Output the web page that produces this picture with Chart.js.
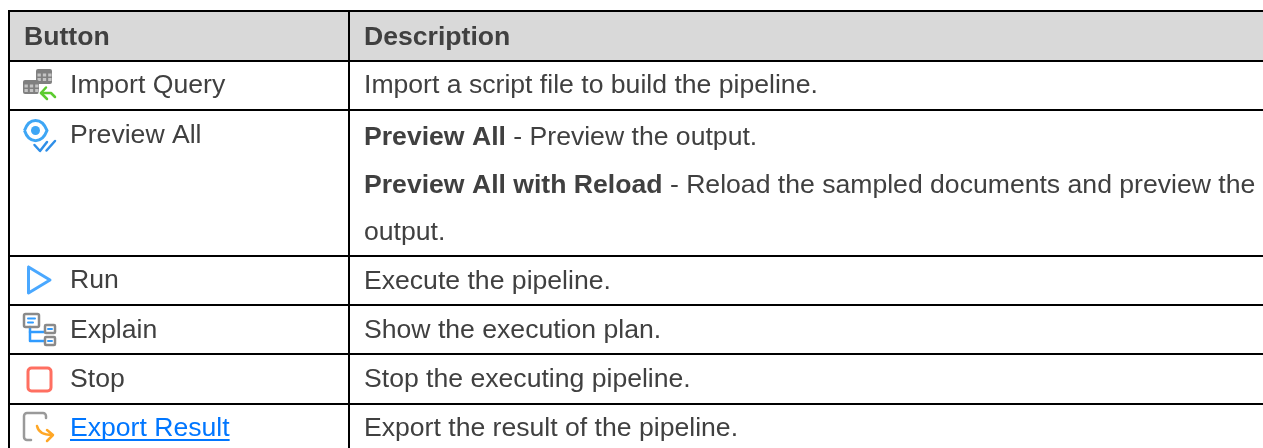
<!DOCTYPE html>
<html>
<head>
<meta charset="utf-8">
<style>
  html, body { margin: 0; padding: 0; background: #fff; overflow: hidden; }
  canvas { display: block; }
</style>
<script src="https://cdn.jsdelivr.net/npm/chart.js@4"></script>
</head>
<body>
<canvas id="tableChart" width="1263" height="448"></canvas>
<script>
const headers = ['Button', 'Description'];
const buttons = ['Import Query', 'Preview All', 'Run', 'Explain', 'Stop', 'Export Result'];
const icons = ['import', 'preview', 'run', 'explain', 'stop', 'export'];
const boldParts = ['', 'Preview All', 'Preview All with Reload', '', '', '', '', ''];
const plainParts = [
  'Import a script file to build the pipeline.',
  ' - Preview the output.',
  ' - Reload the sampled documents and preview the',
  'output.',
  'Execute the pipeline.',
  'Show the execution plan.',
  'Stop the executing pipeline.',
  'Export the result of the pipeline.',
];

// the scales run in page pixels, so these read straight off the picture
const columnEdges = [9, 349];
const rowEdges = [11, 61, 110, 256, 305, 354, 404];
const headerBaseline = 45;
const buttonBaselines = [93, 143, 288, 338, 387, 436];
const descBaselines = [93, 145, 193, 240, 289, 338, 387, 436];

const textColor = '#404040';
const linkColor = '#0076ff';
const fontFamily = '"Liberation Sans", Arial, sans-serif';
const fontSize = 26.6;

function line(ctx, points, color, width) {
  ctx.strokeStyle = color;
  ctx.lineWidth = width;
  ctx.lineCap = 'round';
  ctx.lineJoin = 'round';
  ctx.beginPath();
  points.forEach((p, i) => (i ? ctx.lineTo(p[0], p[1]) : ctx.moveTo(p[0], p[1])));
  ctx.stroke();
}

function box(ctx, x, y, w, h, r, color, width) {
  ctx.strokeStyle = color;
  ctx.lineWidth = width;
  ctx.beginPath();
  ctx.roundRect(x, y, w, h, r);
  ctx.stroke();
}

function tableIcon(ctx, x, y, w, h) {
  ctx.fillStyle = '#808080';
  ctx.beginPath();
  ctx.roundRect(x, y, w, h, 2);
  ctx.fill();
  ctx.fillStyle = '#c4c4c4';
  for (let i = 0; i < 3; i++) {
    for (let j = 0; j < 2; j++) {
      ctx.fillRect(x + 1.5 + i * (w / 3), y + 4.5 + j * 4.5, w / 3 - 2, 3);
    }
  }
}

const iconDraw = {
  import(ctx) {
    tableIcon(ctx, 36, 69, 16, 15);
    tableIcon(ctx, 23, 80, 16, 14);
    // white gap round the arrow
    line(ctx, [[55, 97], [51, 93], [41, 93]], '#fff', 5);
    line(ctx, [[55, 97], [51, 93], [41, 93]], '#5ccb2f', 2.5);
    line(ctx, [[46, 87.5], [41, 93], [47, 99]], '#5ccb2f', 2.5);
  },
  preview(ctx) {
    ctx.strokeStyle = '#3ea6f5';
    ctx.lineWidth = 3;
    ctx.beginPath();
    ctx.moveTo(24.5, 130.5);
    ctx.bezierCurveTo(29, 117, 42, 117, 47, 130.5);
    ctx.bezierCurveTo(42, 144, 29, 144, 24.5, 130.5);
    ctx.stroke();
    ctx.fillStyle = '#3ea6f5';
    ctx.beginPath();
    ctx.arc(35.5, 130.5, 4.5, 0, 7);
    ctx.fill();
    // white gap round the ticks
    line(ctx, [[34.5, 145], [40, 151], [47, 142]], '#fff', 5);
    line(ctx, [[34.5, 145], [40, 151], [47, 142]], '#2f8fe8', 2.5);
    line(ctx, [[46.5, 150.5], [55, 141]], '#2f8fe8', 2.5);
  },
  run(ctx) {
    line(ctx, [[28.5, 267], [50, 280], [28.5, 293], [28.5, 267]], '#4aa8ff', 3);
  },
  explain(ctx) {
    line(ctx, [[30, 327], [30, 341], [44, 341]], '#2f9bff', 2.5);
    line(ctx, [[30, 332], [44, 332]], '#2f9bff', 2.5);
    box(ctx, 24, 314, 15, 13, 1.5, '#8a8a8a', 2.5);
    box(ctx, 45, 325, 10, 8, 1, '#8a8a8a', 2.5);
    box(ctx, 45, 337, 10, 8, 1, '#8a8a8a', 2.5);
    line(ctx, [[28, 318.5], [35, 318.5]], '#2f9bff', 2);
    line(ctx, [[28, 322.5], [33, 322.5]], '#2f9bff', 2);
    line(ctx, [[48, 329], [52, 329]], '#2f9bff', 2);
    line(ctx, [[48, 341], [52, 341]], '#2f9bff', 2);
  },
  stop(ctx) {
    box(ctx, 28, 368, 23, 23, 3.5, '#ff6f61', 3);
  },
  export(ctx) {
    ctx.strokeStyle = '#9a9a9a';
    ctx.lineWidth = 2.5;
    ctx.lineCap = 'round';
    ctx.beginPath();
    ctx.moveTo(46, 418);
    ctx.lineTo(46, 416);
    ctx.arcTo(46, 413, 43, 413, 3);
    ctx.lineTo(27, 413);
    ctx.arcTo(24, 413, 24, 416, 3);
    ctx.lineTo(24, 437);
    ctx.arcTo(24, 440, 27, 440, 3);
    ctx.lineTo(31, 440);
    ctx.stroke();
    ctx.strokeStyle = '#ffa726';
    ctx.beginPath();
    ctx.moveTo(37, 426);
    ctx.quadraticCurveTo(39, 435, 52, 435);
    ctx.stroke();
    line(ctx, [[47, 430], [53, 435], [47, 441]], '#ffa726', 2.5);
  },
};

const tableText = {
  id: 'tableText',
  afterDraw(chart) {
    const { ctx, scales } = chart;
    const x = (v) => scales.x.getPixelForValue(v);
    const y = (v) => scales.y.getPixelForValue(v);
    const regular = `${fontSize}px ${fontFamily}`;
    const bold = `bold ${fontSize}px ${fontFamily}`;

    ctx.save();
    ctx.textBaseline = 'alphabetic';
    ctx.textAlign = 'left';
    // the reference is a slightly soft upscaled screenshot
    ctx.filter = 'blur(0.3px)';

    ctx.font = bold;
    ctx.fillStyle = textColor;
    ctx.fillText(headers[0], x(24), y(headerBaseline));
    ctx.fillText(headers[1], x(364), y(headerBaseline));

    buttons.forEach((label, i) => {
      const isLink = label === 'Export Result';
      ctx.font = regular;
      ctx.fillStyle = isLink ? linkColor : textColor;
      ctx.fillText(label, x(70), y(buttonBaselines[i]));
      if (isLink) {
        ctx.fillRect(x(70), y(buttonBaselines[i]) + 3, ctx.measureText(label).width, 2);
      }
    });

    plainParts.forEach((text, i) => {
      let left = x(364);
      ctx.fillStyle = textColor;
      if (boldParts[i]) {
        ctx.font = bold;
        ctx.fillText(boldParts[i], left, y(descBaselines[i]));
        left += ctx.measureText(boldParts[i]).width;
      }
      ctx.font = regular;
      ctx.fillText(text, left, y(descBaselines[i]));
    });

    ctx.filter = 'blur(0.5px)';
    icons.forEach((name) => {
      ctx.save();
      iconDraw[name](ctx);
      ctx.restore();
    });
    ctx.restore();
  },
};

const edgeTicks = (edges) => (scale) => {
  scale.ticks = edges.map((value) => ({ value }));
};

const gridStyle = { color: '#000', lineWidth: 2, drawTicks: false, z: 1 };

new Chart(document.getElementById('tableChart').getContext('2d'), {
  type: 'scatter',
  data: {
    datasets: [
      {
        // header band, filled from the top rule down to the header rule
        data: [
          { x: columnEdges[0], y: rowEdges[0] },
          { x: 1263, y: rowEdges[0] },
        ],
        showLine: true,
        borderWidth: 0,
        pointRadius: 0,
        backgroundColor: '#d9d9d9',
        fill: { value: rowEdges[1] },
      },
    ],
  },
  options: {
    responsive: false,
    animation: false,
    layout: { padding: { left: 8, top: 10 } },
    plugins: { legend: { display: false }, tooltip: { enabled: false } },
    events: [],
    scales: {
      x: {
        type: 'linear',
        min: 8,
        max: 1263,
        grid: gridStyle,
        border: { display: false },
        ticks: { display: false, autoSkip: false },
        afterBuildTicks: edgeTicks(columnEdges),
      },
      y: {
        type: 'linear',
        reverse: true,
        min: 10,
        max: 448,
        grid: gridStyle,
        border: { display: false },
        ticks: { display: false, autoSkip: false },
        afterBuildTicks: edgeTicks(rowEdges),
      },
    },
  },
  plugins: [tableText],
});
</script>
</body>
</html>
